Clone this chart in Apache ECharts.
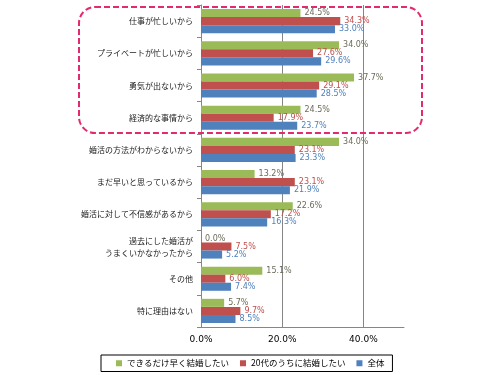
<!DOCTYPE html>
<html>
<head>
<meta charset="utf-8">
<script src="https://cdn.jsdelivr.net/npm/echarts@6/dist/echarts.min.js"></script>
<style>
  html, body { margin: 0; padding: 0; background: #fff; }
  #chart { width: 500px; height: 375px; }
</style>
</head>
<body>
<div id="chart"></div>
<script>
const categories = [
  "仕事が忙しいから",
  "プライベートが忙しいから",
  "勇気が出ないから",
  "経済的な事情から",
  "婚活の方法がわからないから",
  "まだ早いと思っているから",
  "婚活に対して不信感があるから",
  "過去にした婚活が\nうまくいかなかったから",
  "その他",
  "特に理由はない"
];
const seriesNames = ["できるだけ早く結婚したい", "20代のうちに結婚したい", "全体"];
const asapValues = [24.5, 34.0, 37.7, 24.5, 34.0, 13.2, 22.6, 0.0, 15.1, 5.7];
const twentiesValues = [34.3, 27.6, 29.1, 17.9, 23.1, 23.1, 17.2, 7.5, 6.0, 9.7];
const totalValues = [33.0, 29.6, 28.5, 23.7, 23.3, 21.9, 16.3, 5.2, 7.4, 8.5];

const barColors = ["#9bbb59", "#c0504d", "#4f81bd"];
const labelColors = ["#6b6b5a", "#c0504d", "#4f81bd"];

const myChart = echarts.init(document.getElementById("chart"));

function makeSeries(idx, values) {
  return {
    name: seriesNames[idx],
    type: "bar",
    data: values,
    barGap: "0%",
    barCategoryGap: "25%",
    itemStyle: { color: barColors[idx] },
    label: {
      show: true,
      position: "right",
      distance: 4,
      color: labelColors[idx],
      fontFamily: "DejaVu Sans",
      fontSize: 8,
      formatter: (p) => p.value.toFixed(1) + "%"
    }
  };
}

const option = {
  animation: false,
  grid: { left: 201, right: 96, top: 5, bottom: 48 },
  legend: {
    left: 101,
    top: 355,
    itemWidth: 6,
    itemHeight: 6,
    icon: "rect",
    itemGap: 11,
    borderColor: "#000",
    borderWidth: 1,
    padding: [4, 8, 4, 15],
    textStyle: { fontSize: 8.5, color: "#000", fontFamily: "Noto Sans CJK JP" },
    data: seriesNames
  },
  xAxis: {
    type: "value",
    min: 0,
    max: 50,
    interval: 20,
    axisLine: { show: true, lineStyle: { color: "#868686" } },
    axisTick: { show: false },
    axisLabel: {
      showMaxLabel: false,
      color: "#000",
      fontFamily: "DejaVu Sans",
      fontSize: 9,
      margin: 8,
      formatter: (v) => v.toFixed(1) + "%"
    },
    splitLine: { show: true, showMinLine: false, showMaxLine: false, lineStyle: { color: "#868686" } }
  },
  yAxis: {
    type: "category",
    inverse: true,
    data: categories,
    axisLine: { lineStyle: { color: "#868686" } },
    axisTick: { show: true, length: 4, lineStyle: { color: "#868686" } },
    axisLabel: {
      color: "#1a1a1a",
      fontSize: 8,
      fontFamily: "Noto Sans CJK JP",
      margin: 8,
      lineHeight: 12
    }
  },
  series: [
    makeSeries(0, asapValues),
    makeSeries(1, twentiesValues),
    makeSeries(2, totalValues)
  ],
  graphic: [
    {
      type: "rect",
      shape: { x: 79, y: 7, width: 343, height: 126, r: 16 },
      style: { fill: "none", stroke: "#e32a6e", lineWidth: 2, lineDash: [6, 3] },
      z: 100
    }
  ]
};

myChart.setOption(option);
</script>
</body>
</html>
